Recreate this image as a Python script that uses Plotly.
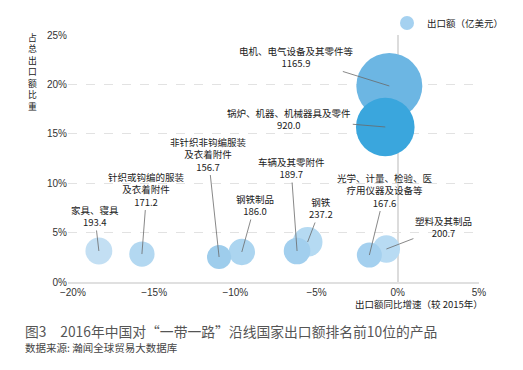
import plotly.graph_objects as go

# ---- data ----
products = ["电机、电气设备及其零件等", "锅炉、机器、机械器具及零件", "钢铁", "塑料及其制品",
            "家具、寝具", "钢铁制品", "车辆及其零附件", "针织或钩编的服装<br>及衣着附件",
            "光学、计量、检验、医<br>疗用仪器及设备等", "非针织非钩编服装<br>及衣着附件"]
growth = [-0.52, -0.77, -5.55, -0.7, -18.4, -9.6, -6.2, -15.75, -1.75, -11.0]   # %
share = [19.84, 15.69, 4.05, 3.34, 3.14, 3.04, 3.14, 2.83, 2.73, 2.53]          # %
export_value = [1165.9, 920.0, 237.2, 200.7, 193.4, 186.0, 189.7, 171.2, 167.6, 156.7]  # 亿美元
value_labels = ["1165.9", "920.0", "237.2", "200.7", "193.4", "186.0", "189.7", "171.2", "167.6", "156.7"]

x_ticks = [-20, -15, -10, -5, 0, 5]
x_ticktext = ["−20%", "−15%", "−10%", "−5%", "0%", "5%"]
y_ticks = [0, 5, 10, 15, 20, 25]
y_ticktext = ["0%", "5%", "10%", "15%", "20%", "25%"]

# ---- styles ----
colors = ["#6CB6E3", "#3AA6DD", "#B5DAF2", "#B8DBF3", "#C3DFF3",
          "#ACD5F0", "#A2CFEE", "#B3D8F1", "#A4D0EF", "#9ECDEC"]
label_offsets = [(-93, -29), (-96, -8), (13, -34), (57, -22), (-4, -35),
                 (13, -47), (-6, -83), (5, -65), (16, -65), (-11, -103)]
FONT = "Liberation Sans, Arial, Noto Sans CJK SC, sans-serif"
CJK = "Noto Sans CJK SC, Liberation Sans, sans-serif"

OFF = 8  # page body margin
W, H = 523 - OFF, 370 - OFF
# plot area in page pixels: x 68..479, y 35..282
L, R, T, B = 68 - OFF, 523 - 479, 35 - OFF, 370 - 282
PW, PH = W - L - R, H - T - B


def px(page_x):
    return (page_x - 68) / PW


def py(page_y):
    return (282 - page_y) / PH


max_diam = 66
sizeref = 2 * max(export_value) / max_diam ** 2

fig = go.Figure()
fig.add_trace(go.Scatter(
    x=growth, y=share, mode="markers",
    marker=dict(size=export_value, sizemode="area", sizeref=sizeref,
                color=colors, opacity=1, line=dict(width=0)),
    showlegend=False, cliponaxis=False, hoverinfo="skip"))

# legend proxy
fig.add_trace(go.Scatter(x=[None], y=[None], mode="markers",
                         marker=dict(size=14, color="#A5D1F0"),
                         name="出口额（亿美元）", showlegend=True))

annotations = []
for p, gx, sy, vl, (ax, ay) in zip(products, growth, share, value_labels, label_offsets):
    annotations.append(dict(
        x=gx, y=sy, xref="x", yref="y", text=f"{p}<br>{vl}",
        showarrow=True, arrowhead=0, arrowwidth=0.8, arrowcolor="#6a6a6a",
        ax=ax, ay=ay, align="center",
        font=dict(family=CJK, size=9.5, color="#222")))

# vertical y-axis title
ytitle = "占总出口额比重"
annotations.append(dict(x=px(32), y=py(29), xref="paper", yref="paper",
                        text="<br>".join(ytitle), showarrow=False,
                        xanchor="center", yanchor="top", align="center",
                        font=dict(family=CJK, size=8.8, color="#222")))

annotations.append(dict(x=px(485), y=py(304), xref="paper", yref="paper",
                        text="出口额同比增速（较 2015年）", showarrow=False,
                        xanchor="right", yanchor="middle",
                        font=dict(family=CJK, size=9.5, color="#222")))
annotations.append(dict(x=px(23), y=py(331), xref="paper", yref="paper",
                        text="图3　2016年中国对“一带一路”沿线国家出口额排名前10位的产品",
                        showarrow=False, xanchor="left", yanchor="middle",
                        font=dict(family=CJK, size=13.8, color="#555")))
annotations.append(dict(x=px(23), y=py(347), xref="paper", yref="paper",
                        text="数据来源: 瀚闻全球贸易大数据库",
                        showarrow=False, xanchor="left", yanchor="middle",
                        font=dict(family=CJK, size=10.5, color="#444")))

fig.update_layout(
    width=W, height=H,
    margin=dict(l=L, r=R, t=T, b=B, autoexpand=False),
    paper_bgcolor="white", plot_bgcolor="white",
    font=dict(family=FONT, size=10, color="#333"),
    annotations=annotations,
    legend=dict(x=px(387), y=py(23), xanchor="left", yanchor="middle",
                font=dict(family=CJK, size=9.5, color="#222"),
                bgcolor="rgba(0,0,0,0)", borderwidth=0),
    xaxis=dict(range=[-20.3, 5], tickvals=x_ticks, ticktext=x_ticktext,
               showgrid=False, zeroline=True, zerolinecolor="#dcdcdc", zerolinewidth=1.5,
               showline=True, linecolor="#e0e0e0", linewidth=2, ticks="",
               tickfont=dict(family=FONT, size=10, color="#333")),
    yaxis=dict(range=[0, 25], tickvals=y_ticks, ticktext=y_ticktext,
               showgrid=True, gridcolor="#e2e2e2", griddash="dash", gridwidth=1,
               zeroline=False, showline=False, ticks="",
               tickfont=dict(family=FONT, size=10, color="#333")),
)

fig.write_html("out.html")
